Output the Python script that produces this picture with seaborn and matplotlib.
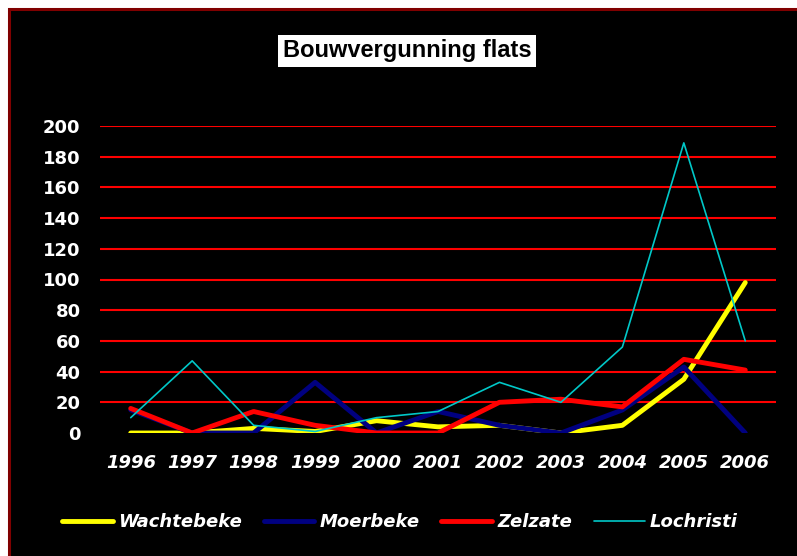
import matplotlib
matplotlib.use("Agg")
import matplotlib.pyplot as plt
from matplotlib.patches import Rectangle
import seaborn as sns
import pandas as pd

years = ["1996", "1997", "1998", "1999", "2000", "2001", "2002", "2003", "2004", "2005", "2006"]
wachtebeke = [0, 0, 3, 1, 8, 4, 5, 0, 5, 35, 98]
moerbeke = [15, 0, 0, 33, 0, 14, 5, 0, 15, 43, 0]
zelzate = [16, 0, 14, 5, 0, 0, 20, 22, 17, 48, 41]
lochristi = [10, 47, 5, 1, 10, 14, 33, 20, 56, 189, 60]

series_names = ["Wachtebeke", "Moerbeke", "Zelzate", "Lochristi"]
series_vals = [wachtebeke, moerbeke, zelzate, lochristi]
colors = ["#FFFF00", "#000080", "#FF0000", "#00C8C8"]
widths = [3.5, 3.5, 3.5, 1.2]

rows = []
for name, vals in zip(series_names, series_vals):
    for i, (y, v) in enumerate(zip(years, vals)):
        rows.append({"idx": i, "year": y, "value": v, "series": name})
df = pd.DataFrame(rows)

sns.set_style("white")
plt.rcParams["font.family"] = ["DejaVu Sans"]

W, H = 797, 556
fig = plt.figure(figsize=(W / 100, H / 100), dpi=100)
fig.patch.set_facecolor("white")
fig.add_artist(Rectangle((9 / W, -0.01), 1.02, (H - 9) / H + 0.01, transform=fig.transFigure,
                         facecolor="black", edgecolor="#800000", linewidth=2.2, zorder=0))

ax = fig.add_axes([100 / W, (H - 433) / H, (776 - 100) / W, (433 - 126) / H])
ax.set_facecolor("black")
for s in ax.spines.values():
    s.set_visible(False)

for k, (name, col, lw) in enumerate(zip(series_names, colors, widths)):
    sub = df[df["series"] == name]
    sns.lineplot(data=sub, x="idx", y="value", color=col, linewidth=lw, ax=ax,
                 label=name, zorder=3 + k, solid_capstyle="round")

ax.set_xlim(-0.5, len(years) - 0.5)
ax.set_ylim(0, 200)
ax.set_xticks(range(len(years)))
ax.set_xticklabels(years)
ax.set_yticks(range(0, 201, 20))
for y in range(20, 201, 20):
    ax.axhline(y, color="#FF0000", linewidth=1.5, zorder=1)
ax.set_xlabel("")
ax.set_ylabel("")
ax.tick_params(axis="both", length=0, colors="white")
ax.tick_params(axis="y", pad=14)
ax.tick_params(axis="x", pad=15)
for t in ax.get_yticklabels():
    t.set_fontsize(13)
    t.set_fontweight("bold")
for t in ax.get_xticklabels():
    t.set_fontsize(13)
    t.set_fontweight("bold")
    t.set_fontstyle("italic")

ax.get_legend().remove()
handles, labels = ax.get_legend_handles_labels()
leg = fig.legend(handles, labels, loc="center", bbox_to_anchor=(400 / W, (H - 522) / H),
                 ncol=4, frameon=False, handlelength=2.8, handletextpad=0.3, columnspacing=1.2,
                 prop={"weight": "bold", "style": "italic", "size": 13})
for t in leg.get_texts():
    t.set_color("white")

fig.text(407 / W, (H - 51) / H, "Bouwvergunning flats", ha="center", va="center",
         fontsize=17, fontweight="bold", color="black",
         family=["Liberation Sans Narrow", "Liberation Sans", "DejaVu Sans"],
         bbox=dict(boxstyle="square,pad=0.18", facecolor="white", edgecolor="none"))

fig.savefig("out.png", dpi=100, facecolor=fig.get_facecolor())
